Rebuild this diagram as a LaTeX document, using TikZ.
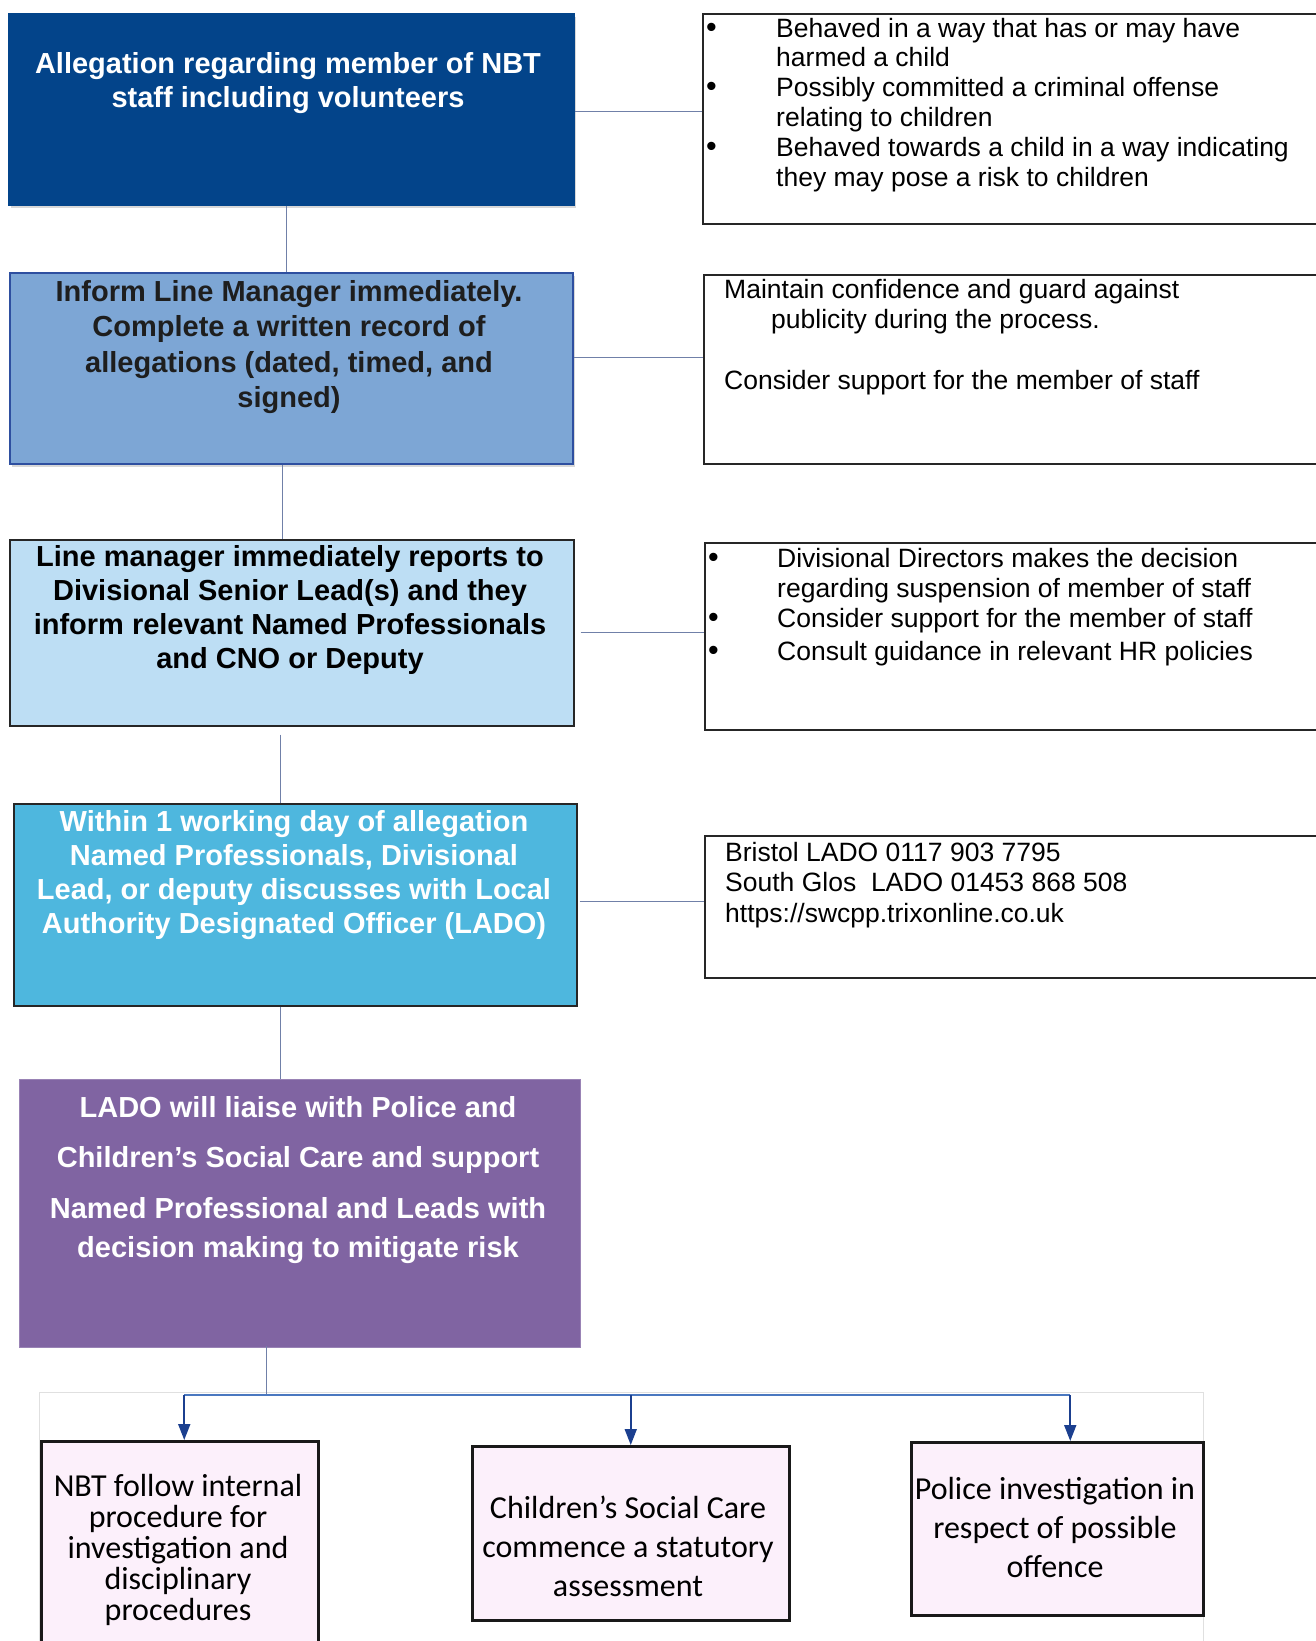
\documentclass[tikz,border=0pt]{standalone}
\usepackage{fontspec}
\setmainfont{Liberation Sans}
\newfontfamily\calibrifont{Carlito}
\usetikzlibrary{arrows.meta,shadows,calc}
\definecolor{navybox}{HTML}{03448A}
\definecolor{midblue}{HTML}{7DA6D5}
\definecolor{midborder}{HTML}{2E4FA0}
\definecolor{lightblue}{HTML}{BDDEF4}
\definecolor{cyanbox}{HTML}{4EB7DE}
\definecolor{purplebox}{HTML}{8064A2}
\definecolor{pinkbox}{HTML}{FCF0FB}
\definecolor{conn}{HTML}{7080A8}
\definecolor{busblue}{HTML}{4A78C0}
\definecolor{arrownavy}{HTML}{1B3F8F}
\definecolor{darktext}{HTML}{1E1E1E}
\newcommand\itembul[1]{\makebox[#1][l]{\scalebox{1.15}{\textbullet}}}
\begin{document}
\begin{tikzpicture}[x=1pt,y=-1pt,
  leftbox/.style={draw, line width=1.5pt, anchor=north west, inner sep=0pt},
  rightbox/.style={draw=black!85, line width=1.5pt, anchor=north west, inner sep=0pt},
  bottombox/.style={draw=black!90, line width=2.5pt, fill=pinkbox, anchor=north west, inner sep=0pt,
     drop shadow={shadow xshift=1.5pt, shadow yshift=-1.5pt, opacity=0.25}},
  lefttext/.style={align=center, font=\bfseries\fontsize{29}{34}\selectfont, inner sep=0pt},
  righttext/.style={align=left, anchor=base west, font=\fontsize{26.5}{29.8}\selectfont, inner sep=0pt},
  bottomtext/.style={align=center, inner sep=0pt},
  link/.style={draw=conn, line width=1pt},
  busline/.style={draw=busblue, line width=2pt},
  arrowline/.style={draw=arrownavy, line width=1.8pt, -{Triangle[length=16pt,width=12pt]}}
]
\useasboundingbox (0,0) rectangle (1315,1641);
\fill[white] (0,0) rectangle (1315,1641);

% faint frame round the bottom part
\draw[black!12, line width=0.8pt] (39,1392) rectangle (1203,1700);

% left column
\node[leftbox, fill=navybox, draw=navybox, minimum width=565pt, minimum height=191pt,
      drop shadow={shadow xshift=2pt, shadow yshift=-3pt, opacity=0.3}] (b1) at (8,13) {};
\node[leftbox, fill=midblue, draw=midborder, minimum width=563pt, minimum height=191pt,
      drop shadow={shadow xshift=2pt, shadow yshift=-3pt, opacity=0.3}] (b2) at (9,272) {};
\node[leftbox, fill=lightblue, draw=black!85, minimum width=564pt, minimum height=186pt] (b3) at (9,539) {};
\node[leftbox, fill=cyanbox, draw=black!85, minimum width=563pt, minimum height=202pt] (b4) at (13,803) {};
\node[leftbox, fill=purplebox, draw=purplebox!80, line width=0.8pt, minimum width=561pt, minimum height=268pt] (b5) at (19,1079) {};

\node[lefttext, text=white] (t1) at (288,83) {Allegation regarding member of NBT\\staff including volunteers};
\node[lefttext, text=darktext, font=\bfseries\fontsize{29}{35.6}\selectfont] (t2) at (289,347)
  {Inform Line Manager immediately.\\Complete a written record of\\allegations (dated, timed, and\\signed)};
\node[lefttext, text=black] (t3) at (290,610)
  {Line manager immediately reports to\\Divisional Senior Lead(s) and they\\inform relevant Named Professionals\\and CNO or Deputy};
\node[lefttext, text=white] (t4) at (294,875)
  {Within 1 working day of allegation\\Named Professionals, Divisional\\Lead, or deputy discusses with Local\\Authority Designated Officer (LADO)};
\node[lefttext, text=white] (t5) at (298,1180.5)
  {LADO will liaise with Police and\\[16pt]Children’s Social Care and support\\[17pt]Named Professional and Leads with\\[5pt]decision making to mitigate risk};

% right column
\node[rightbox, minimum width=640pt, minimum height=210pt] (r1) at (702,13) {};
\node[rightbox, minimum width=640pt, minimum height=189pt] (r2) at (703,274) {};
\node[rightbox, minimum width=640pt, minimum height=187pt] (r3) at (704,542) {};
\node[rightbox, minimum width=640pt, minimum height=142pt] (r4) at (704,835) {};

\node[righttext] (s1) at (706,186)
  {\itembul{70pt}Behaved in a way that has or may have\\\hspace*{70pt}harmed a child\\
   \itembul{70pt}Possibly committed a criminal offense\\\hspace*{70pt}relating to children\\
   \itembul{70pt}Behaved towards a child in a way indicating\\\hspace*{70pt}they may pose a risk to children};
\node[righttext] (s2) at (724,389)
  {Maintain confidence and guard against\\\hspace*{47pt}publicity during the process.\\[31pt]Consider support for the member of staff};
\node[righttext] (s3) at (708,660)
  {\itembul{69pt}Divisional Directors makes the decision\\\hspace*{69pt}regarding suspension of member of staff\\
   \itembul{69pt}Consider support for the member of staff\\[3pt]
   \itembul{69pt}Consult guidance in relevant HR policies};
\node[righttext] (s4) at (725,922)
  {Bristol LADO 0117 903 7795\\South Glos\ \ LADO 01453 868 508\\[1pt]https://swcpp.trixonline.co.uk};

% bottom boxes
\node[bottombox, minimum width=277pt, minimum height=260pt] (c1) at (40,1440) {};
\node[bottombox, minimum width=317pt, minimum height=174pt] (c2) at (471,1445) {};
\node[bottombox, minimum width=292pt, minimum height=173pt] (c3) at (910,1441) {};

\node[bottomtext, font=\calibrifont\fontsize{32}{31}\selectfont] (u1) at (178,1550)
  {NBT follow internal\\procedure for\\investigation and\\disciplinary\\procedures};
\node[bottomtext, font=\calibrifont\fontsize{32}{39}\selectfont] (u2) at (628,1546)
  {Children’s Social Care\\commence a statutory\\assessment};
\node[bottomtext, font=\calibrifont\fontsize{32}{39}\selectfont] (u3) at (1055,1527)
  {Police investigation in\\respect of possible\\offence};

% connectors down the left column
\draw[link] ($(b1.south)+(-4.5,0)$) -- ($(b1.south |- b2.north)+(-4.5,0)$);
\draw[link] ($(b2.south)+(-8.5,0)$) -- ($(b2.south |- b3.north)+(-8.5,0)$);
\draw[link] ($(b3.south)+(-11,8)$) -- ($(b3.south |- b4.north)+(-11,0)$);
\draw[link] ($(b4.south)+(-14.5,0)$) -- ($(b4.south |- b5.north)+(-14.5,0)$);

% connectors to the right column
\draw[link] ($(b1.east)+(0,2.5)$) -- ($(b1.east -| r1.west)+(0,2.5)$);
\draw[link] ($(b2.east)+(0,-10.5)$) -- ($(b2.east -| r2.west)+(0,-10.5)$);
\draw[link] ($(b3.east)+(6,0)$) -- (b3.east -| r3.west);
\draw[link] ($(b4.east)+(2,-3)$) -- ($(b4.east -| r4.west)+(0,-3)$);

% bus to the bottom boxes
\coordinate (jn) at ($(b5.south)+(-33.5,-2)$);
\coordinate (bus) at ($(b5.south)+(-33.5,47)$);
\draw[link] (jn) -- (bus);
\draw[busline] ($(bus -| c1.north)+(4.5,0)$) -- ($(bus -| c3.north)+(13,0)$);
\draw[arrowline] ($(bus -| c1.north)+(4.5,0)$) -- ($(c1.north)+(4.5,0)$);
\draw[arrowline] ($(bus -| c2.north)+(0,0)$) -- (c2.north);
\draw[arrowline] ($(bus -| c3.north)+(13,0)$) -- ($(c3.north)+(13,0)$);
\end{tikzpicture}
\end{document}
